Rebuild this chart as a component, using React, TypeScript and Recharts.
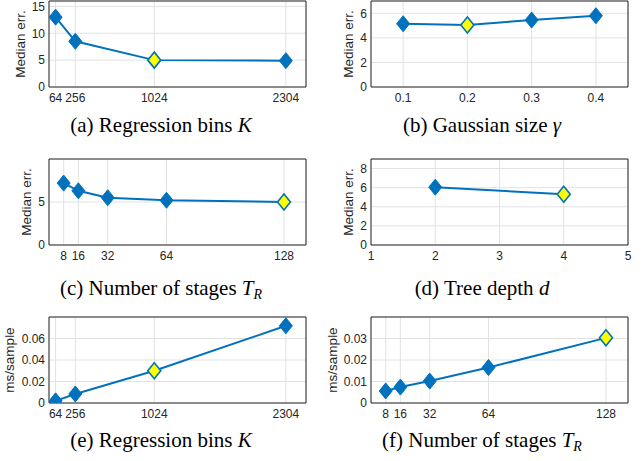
import React from 'react';
import { LineChart, Line, XAxis, YAxis, CartesianGrid, ReferenceArea } from 'recharts';

// (a) / (e) regression bins K
const binsK = [64, 256, 1024, 2304];
const binsErr = [13.0, 8.5, 5.0, 4.9];
const binsTime = [0.002, 0.0084, 0.030, 0.0718];
const binsSel = 1024;

// (b) gaussian size
const gammaVals = [0.1, 0.2, 0.3, 0.4];
const gammaErr = [5.15, 5.05, 5.45, 5.8];
const gammaSel = 0.2;

// (c) / (f) number of stages
const stagesT = [8, 16, 32, 64, 128];
const stagesErr = [7.2, 6.3, 5.5, 5.2, 5.0];
const stagesTime = [0.0056, 0.0074, 0.0102, 0.0165, 0.0303];
const stagesSel = 128;

// (d) tree depth
const depthD = [2, 4];
const depthErr = [6.05, 5.3];
const depthSel = 4;

const BLUE = '#0072BD';
const AXIS = '#262626';
const SANS = "'Liberation Sans', Arial, Helvetica, sans-serif";
const SERIF = "'Liberation Serif', 'Times New Roman', Times, 'DejaVu Serif', serif";

const Diamond = (sel: number) => (props: any) => {
  const { cx, cy, payload, index } = props;
  if (cx == null || cy == null) return <g key={index} />;
  const hit = payload.x === sel;
  const d = `M${cx},${cy - 8} L${cx + 6.5},${cy} L${cx},${cy + 8} L${cx - 6.5},${cy} Z`;
  return (
    <path
      key={index}
      d={d}
      fill={hit ? '#FFFF00' : BLUE}
      stroke={BLUE}
      strokeWidth={hit ? 1.6 : 1}
    />
  );
};

interface PanelProps {
  xs: number[];
  ys: number[];
  sel: number;
  xDomain: [number, number];
  yDomain: [number, number];
  xTicks: number[];
  yTicks: number[];
  left: number;
  top: number;
  width: number;
  yAxisWidth: number;
}

const Panel: React.FC<PanelProps> = ({ xs, ys, sel, xDomain, yDomain, xTicks, yTicks, left, top, width, yAxisWidth }) => {
  const data = xs.map((x, i) => ({ x, y: ys[i] }));
  const tick = { fontSize: 12, fill: AXIS, fontFamily: SANS };
  return (
    <div style={{ position: 'absolute', left, top }}>
      <LineChart width={width} height={107} data={data} margin={{ top: 1, right: 14, bottom: 0, left: 0 }}>
        <CartesianGrid stroke="#e2e2e2" strokeWidth={1} />
        <XAxis
          dataKey="x"
          type="number"
          domain={xDomain}
          ticks={xTicks}
          interval={0}
          allowDataOverflow
          axisLine={false}
          tickLine={false}
          tickSize={4}
          tickMargin={2}
          height={20}
          tick={tick}
        />
        <YAxis
          type="number"
          domain={yDomain}
          ticks={yTicks}
          interval={0}
          allowDataOverflow
          axisLine={false}
          tickLine={false}
          tickSize={2}
          tickMargin={2}
          width={yAxisWidth}
          tick={tick}
        />
        <ReferenceArea
          x1={xDomain[0]}
          x2={xDomain[1]}
          y1={yDomain[0]}
          y2={yDomain[1]}
          fill="none"
          stroke={AXIS}
          strokeWidth={1}
          ifOverflow="visible"
        />
        <Line
          type="linear"
          dataKey="y"
          stroke={BLUE}
          strokeWidth={2}
          dot={Diamond(sel)}
          activeDot={false}
          isAnimationActive={false}
        />
      </LineChart>
    </div>
  );
};

const YLabel: React.FC<{ text: string; cx: number; cy: number }> = ({ text, cx, cy }) => (
  <div
    style={{
      position: 'absolute',
      left: cx,
      top: cy,
      transform: 'translate(-50%, -50%) rotate(-90deg)',
      whiteSpace: 'nowrap',
      fontFamily: SANS,
      fontSize: 13.5,
      color: AXIS,
      lineHeight: 1,
    }}
  >
    {text}
  </div>
);

const Caption: React.FC<{ cx: number; cy: number; children: React.ReactNode }> = ({ cx, cy, children }) => (
  <div
    style={{
      position: 'absolute',
      left: cx - 160,
      top: cy - 12,
      width: 320,
      textAlign: 'center',
      fontFamily: SERIF,
      fontSize: 21,
      lineHeight: '24px',
      color: '#000',
      whiteSpace: 'nowrap',
    }}
  >
    {children}
  </div>
);

const TR = (
  <span>
    <i>T</i>
    <sub style={{ fontSize: 14, verticalAlign: '-4px', lineHeight: 0 }}>
      <i>R</i>
    </sub>
  </span>
);

export default function App() {
  return (
    <div style={{ position: 'absolute', left: 0, top: 0, width: 642, height: 461, background: '#fff', overflow: 'hidden' }}>
      {/* row 1 */}
      <Panel xs={binsK} ys={binsErr} sel={binsSel} xDomain={[0, 2500]} yDomain={[0, 16]} xTicks={binsK} yTicks={[0, 5, 10, 15]} left={0} top={0} width={320} yAxisWidth={49} />
      <Panel xs={gammaVals} ys={gammaErr} sel={gammaSel} xDomain={[0.05, 0.45]} yDomain={[0, 7]} xTicks={gammaVals} yTicks={[0, 2, 4, 6]} left={320} top={0} width={322} yAxisWidth={51} />
      {/* row 2 */}
      <Panel xs={stagesT} ys={stagesErr} sel={stagesSel} xDomain={[0, 140]} yDomain={[0, 10]} xTicks={stagesT} yTicks={[0, 5]} left={0} top={158} width={320} yAxisWidth={49} />
      <Panel xs={depthD} ys={depthErr} sel={depthSel} xDomain={[1, 5]} yDomain={[0, 9]} xTicks={[1, 2, 3, 4, 5]} yTicks={[0, 2, 4, 6, 8]} left={320} top={158} width={322} yAxisWidth={51} />
      {/* row 3 */}
      <Panel xs={binsK} ys={binsTime} sel={binsSel} xDomain={[0, 2500]} yDomain={[0, 0.08]} xTicks={binsK} yTicks={[0, 0.02, 0.04, 0.06]} left={0} top={316} width={320} yAxisWidth={49} />
      <Panel xs={stagesT} ys={stagesTime} sel={stagesSel} xDomain={[0, 140]} yDomain={[0, 0.04]} xTicks={stagesT} yTicks={[0, 0.01, 0.02, 0.03]} left={320} top={316} width={322} yAxisWidth={51} />

      <YLabel text="Median err." cx={21} cy={44} />
      <YLabel text="Median err." cx={349} cy={44} />
      <YLabel text="Median err." cx={27} cy={202} />
      <YLabel text="Median err." cx={349} cy={202} />
      <YLabel text="ms/sample" cx={10} cy={360} />
      <YLabel text="ms/sample" cx={333} cy={360} />

      <Caption cx={161} cy={125}>(a) Regression bins <i>K</i></Caption>
      <Caption cx={482} cy={125}>(b) Gaussian size <i>γ</i></Caption>
      <Caption cx={161} cy={288}>(c) Number of stages {TR}</Caption>
      <Caption cx={482} cy={288}>(d) Tree depth <i>d</i></Caption>
      <Caption cx={161} cy={440}>(e) Regression bins <i>K</i></Caption>
      <Caption cx={482} cy={440}>(f) Number of stages {TR}</Caption>
    </div>
  );
}
